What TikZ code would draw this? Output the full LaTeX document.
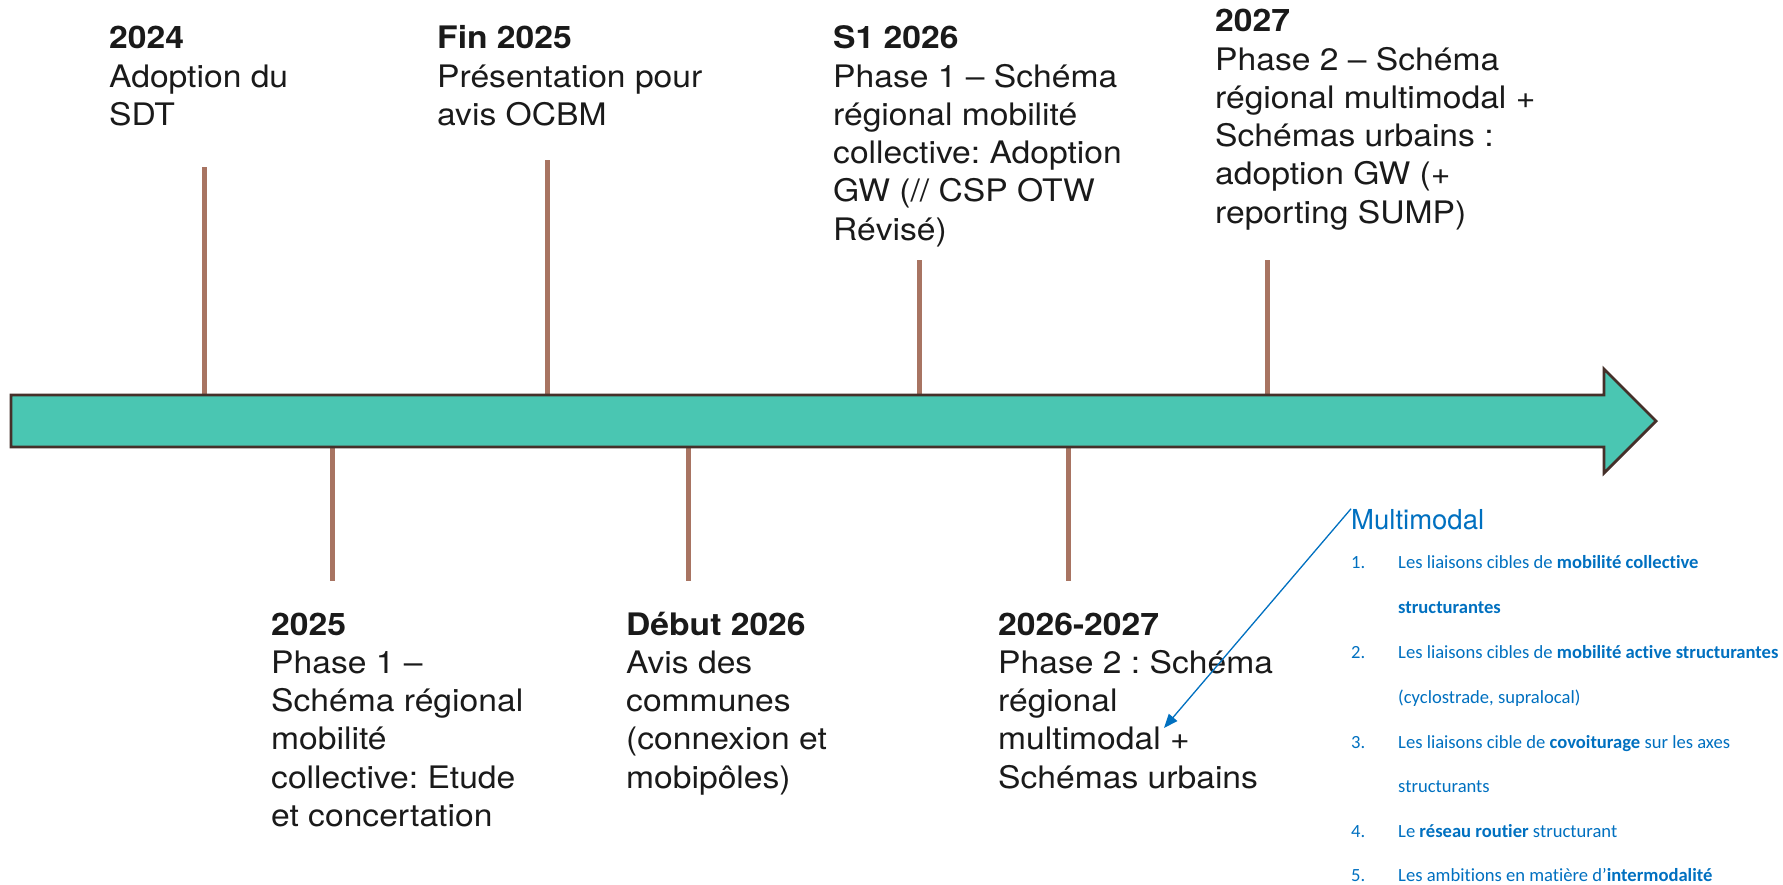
\documentclass[tikz,border=0pt]{standalone}
\usepackage{fontspec}
\setmainfont{TeX Gyre Heros}[FakeStretch=1.085]
\newfontfamily\notefont{TeX Gyre Heros}
\newfontfamily\listfont{Carlito}[Ligatures=NoCommon]
\usetikzlibrary{arrows.meta}
\frenchspacing

\definecolor{arrowfill}{HTML}{4AC6B2}
\definecolor{arrowline}{HTML}{45302A}
\definecolor{tickcol}{HTML}{A87462}
\definecolor{listblue}{HTML}{0070C0}
\definecolor{textcol}{HTML}{1A1A1A}

\tikzset{
	tickline/.style={tickcol, line width=5bp},
	block/.style={anchor=north west, inner sep=0pt, align=left, text=textcol,
		font=\fontsize{31bp}{38.3bp}\selectfont},
	item/.style={anchor=base west, inner sep=0pt, text=listblue,
		font=\listfont\fontsize{18.6bp}{22bp}\selectfont},
}

\begin{document}
\begin{tikzpicture}[x=1bp, y=-1bp]
			\useasboundingbox (0,0) rectangle (1783,885);
			% ticks above the arrow
			\coordinate (a1) at (204,167); \coordinate (a1b) at (204,396);
			\coordinate (a2) at (547,160); \coordinate (a2b) at (547,396);
			\coordinate (a3) at (919,260); \coordinate (a3b) at (919,396);
			\coordinate (a4) at (1267,260); \coordinate (a4b) at (1267,396);
			\draw[tickline] (a1) -- (a1b);
			\draw[tickline] (a2) -- (a2b);
			\draw[tickline] (a3) -- (a3b);
			\draw[tickline] (a4) -- (a4b);
			% ticks below the arrow
			\coordinate (b1) at (332,446); \coordinate (b1b) at (332,581);
			\coordinate (b2) at (688,446); \coordinate (b2b) at (688,581);
			\coordinate (b3) at (1068,446); \coordinate (b3b) at (1068,581);
			\draw[tickline] (b1) -- (b1b);
			\draw[tickline] (b2) -- (b2b);
			\draw[tickline] (b3) -- (b3b);
			% the big arrow
			\draw[arrowline, line width=2.8bp, fill=arrowfill, line join=miter]
				(11,395) -- (1604,395) -- (1604,369) -- (1656,421) -- (1604,473)
				-- (1604,447) -- (11,447) -- cycle;
			% dates above
			\node[block] (d2024) at (109,21.7) {\strut\textbf{2024}\\Adoption du\\SDT};
			\node[block] (dfin25) at (437,21.7) {\strut\textbf{Fin 2025}\\Présentation pour\\avis OCBM};
			\node[block] (ds126) at (833,21.7) {\strut\textbf{S1 2026}\\Phase 1 – Schéma\\régional mobilité\\collective: Adoption\\GW (// CSP OTW\\Révisé)};
			\node[block] (d2027) at (1215,4.7) {\strut\textbf{2027}\\Phase 2 – Schéma\\régional multimodal +\\Schémas urbains :\\adoption GW (+\\reporting SUMP)};
			% dates below
			\node[block] (d2025) at (271,608) {\strut\textbf{2025}\\Phase 1 –\\Schéma régional\\mobilité\\collective: Etude\\et concertation};
			\node[block] (ddeb26) at (626,608) {\strut\textbf{Début 2026}\\Avis des\\communes\\(connexion et\\mobipôles)};
			\node[block] (d2627) at (998,608) {\strut\textbf{2026-2027}\\Phase 2 : Schéma\\régional\\multimodal +\\Schémas urbains};
			% multimodal note
			\node[anchor=base west, inner sep=0pt, text=listblue, font=\notefont\fontsize{27.5bp}{33bp}\selectfont] (mm) at (1351,529) {Multimodal};
			\node[item] (n1) at (1351,568) {1.};
			\node[item] (t1) at (1398,568) {Les liaisons cibles de \textbf{mobilité collective}};
			\node[item] (t1b) at (1398,613) {\textbf{structurantes}};
			\node[item] (n2) at (1351,658.5) {2.};
			\node[item] (t2) at (1398,658.5) {Les liaisons cibles de \textbf{mobilité active structurantes}};
			\node[item] (t2b) at (1398,703) {(cyclostrade, supralocal)};
			\node[item] (n3) at (1351,748) {3.};
			\node[item] (t3) at (1398,748) {Les liaisons cible de \textbf{covoiturage} sur les axes};
			\node[item] (t3b) at (1398,792) {structurants};
			\node[item] (n4) at (1351,837) {4.};
			\node[item] (t4) at (1398,837) {Le \textbf{réseau routier} structurant};
			\node[item] (n5) at (1351,881.5) {5.};
			\node[item] (t5) at (1398,881.5) {Les ambitions en matière d’\textbf{intermodalité}};
			\coordinate (mmtip) at (1164,728);
			\draw[listblue, line width=1.3bp, -{Triangle[length=14bp,width=11bp]}] (mm.north west) -- (mmtip);
		\end{tikzpicture}
\end{document}
